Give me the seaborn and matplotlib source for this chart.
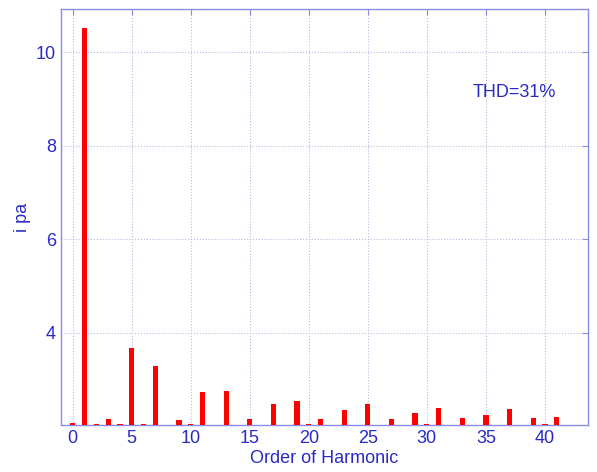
import matplotlib
matplotlib.use("Agg")
import matplotlib.pyplot as plt
import seaborn as sns
import pandas as pd

# harmonic spectrum
order = list(range(0, 43))
amplitude = [2.07, 10.51, 2.06, 2.16, 2.05, 3.67, 2.06, 3.29, 2.04, 2.14,
             2.05, 2.73, 2.04, 2.75, 2.04, 2.15, 2.04, 2.48, 2.04, 2.55,
             2.05, 2.15, 2.04, 2.35, 2.04, 2.47, 2.04, 2.16, 2.04, 2.29,
             2.05, 2.40, 2.04, 2.18, 2.04, 2.24, 2.04, 2.37, 2.04, 2.19,
             2.05, 2.21, 2.04]
xticks = [0, 5, 10, 15, 20, 25, 30, 35, 40]
yticks = [4, 6, 8, 10]
thd_label = "THD=31%"

blue = "#2a2ac8"
spine = "#8c8ce6"

sns.set_style("white")
plt.rcParams['font.family'] = ['Liberation Sans', 'DejaVu Sans']

df = pd.DataFrame({"order": order, "amp": amplitude})

fig = plt.figure(figsize=(5.97, 4.72), dpi=100)
ax = fig.add_axes([0.102, 0.0996, 0.883, 0.8814])
sns.barplot(data=df, x="order", y="amp", native_scale=True, color="#ff0000",
            saturation=1, width=0.44, linewidth=0, ax=ax, zorder=3)

ax.set_xlim(-1, 43.65)
ax.set_ylim(2.03, 10.92)
ax.set_xticks(xticks)
ax.set_yticks(yticks)
ax.grid(True, linestyle=":", color="#b8b8e0", linewidth=0.8, zorder=0)
ax.set_axisbelow(True)
ax.tick_params(direction="in", top=True, right=True, colors=spine,
               labelcolor=blue, labelsize=13, length=4)
for s in ax.spines.values():
    s.set_color(spine)
    s.set_linewidth(1.0)

ax.set_xlabel("Order of Harmonic", color=blue, fontsize=13, labelpad=2)
ax.set_ylabel("i pa", color=blue, fontsize=13, labelpad=3.5)
ax.text(33.9, 9.13, thd_label, color=blue, fontsize=13, ha="left", va="center")

plt.savefig("out.png", dpi=100)
